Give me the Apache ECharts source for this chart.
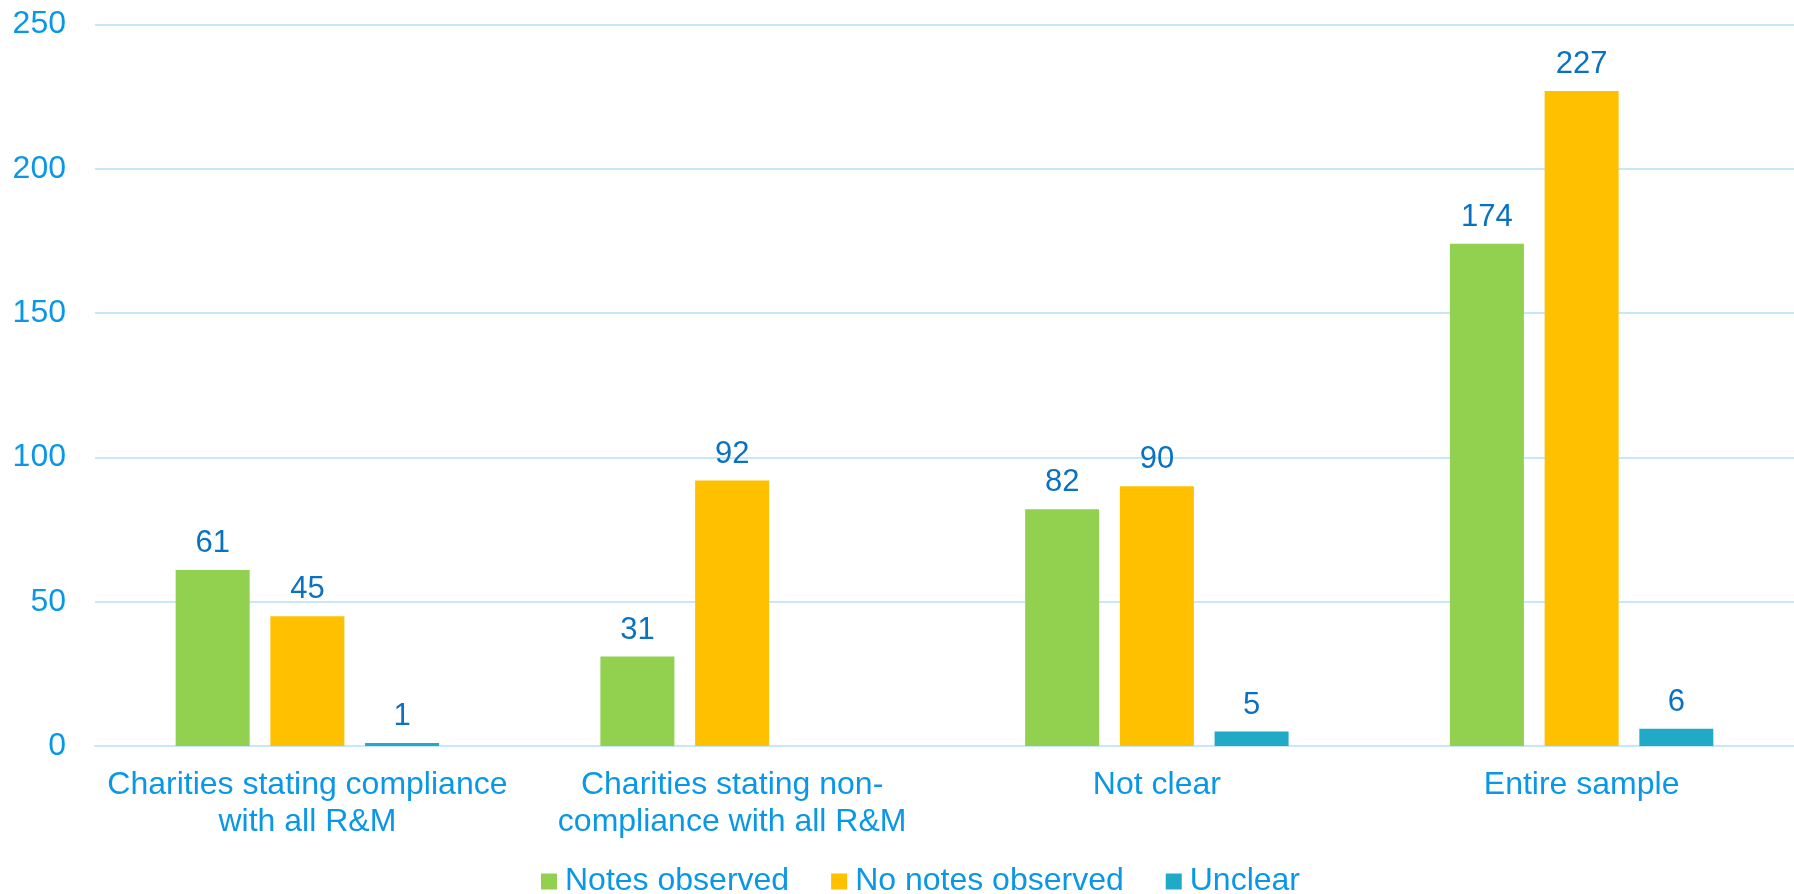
<!DOCTYPE html>
<html>
<head>
<meta charset="utf-8">
<title>Notes observed by compliance statement</title>
<script src="https://cdn.jsdelivr.net/npm/echarts@6/dist/echarts.min.js"></script>
<style>
  html, body { margin: 0; padding: 0; background: #ffffff; }
  #chart { width: 1794px; height: 894px; }
</style>
</head>
<body>
<div id="chart"></div>
<script>
// Groups along the x axis
const categories = [
  'Charities stating compliance\nwith all R&M',
  'Charities stating non-\ncompliance with all R&M',
  'Not clear',
  'Entire sample'
];

// Counts per group
const notesObserved = [61, 31, 82, 174];
const noNotesObserved = [45, 92, 90, 227];
const unclear = [1, 0, 5, 6];

const seriesNames = ['Notes observed', 'No notes observed', 'Unclear'];
const seriesColors = ['#92D050', '#FFC000', '#21AAC8'];

const yTicks = [0, 50, 100, 150, 200, 250];

const axisBlue = '#0A98E6';
const labelBlue = '#0A72C0';
const gridBlue = '#C9E7FA';
const fontFamily = 'Arial, "Liberation Sans", Helvetica, sans-serif';

function barSeries(name, values, color) {
  return {
    name: name,
    type: 'bar',
    data: values,
    barWidth: 74,
    barGap: '28%',
    itemStyle: { color: color },
    label: {
      show: true,
      position: 'top',
      distance: 11,
      color: labelBlue,
      fontSize: 31,
      fontFamily: fontFamily,
      // an empty group gets no label
      formatter: p => (p.value ? String(p.value) : '')
    }
  };
}

const chart = echarts.init(document.getElementById('chart'), null, { renderer: 'canvas' });

chart.setOption({
  animation: false,
  backgroundColor: '#ffffff',
  grid: {
    left: 95,
    top: 24.5,
    width: 1707,
    bottom: 148,
    containLabel: false
  },
  legend: {
    data: seriesNames,
    left: 541,
    top: 865.5,
    padding: 0,
    itemWidth: 16,
    itemHeight: 16,
    itemGap: 42,
    icon: 'rect',
    textStyle: {
      color: axisBlue,
      fontSize: 32,
      lineHeight: 32,
      fontFamily: fontFamily,
      padding: [0, 0, 0, 3]
    }
  },
  xAxis: {
    type: 'category',
    data: categories,
    axisTick: { show: false },
    axisLine: { show: true, lineStyle: { color: gridBlue, width: 2 } },
    axisLabel: {
      color: axisBlue,
      fontSize: 32,
      lineHeight: 37,
      margin: 21,
      fontFamily: fontFamily,
      interval: 0
    }
  },
  yAxis: {
    type: 'value',
    min: yTicks[0],
    max: yTicks[yTicks.length - 1],
    interval: yTicks[1] - yTicks[0],
    axisLine: { show: false },
    axisTick: { show: false },
    splitLine: { lineStyle: { color: gridBlue, width: 2 } },
    axisLabel: {
      color: axisBlue,
      fontSize: 32,
      margin: 29,
      fontFamily: fontFamily
    }
  },
  series: [
    barSeries(seriesNames[0], notesObserved, seriesColors[0]),
    barSeries(seriesNames[1], noNotesObserved, seriesColors[1]),
    barSeries(seriesNames[2], unclear, seriesColors[2])
  ]
});
</script>
</body>
</html>
